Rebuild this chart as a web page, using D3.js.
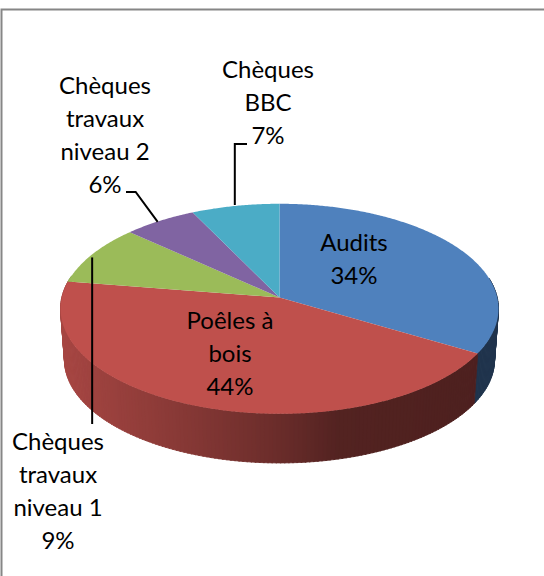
<!DOCTYPE html>
<html>
<head>
<meta charset="utf-8">
<script src="https://cdn.jsdelivr.net/npm/d3@7"></script>
<style>
  html, body { margin: 0; padding: 0; background: #fff; overflow: hidden; }
  svg { display: block; }
</style>
</head>
<body>
<div id="chart"></div>
<script>
// data (slices start at 12 o'clock, clockwise)
const categories = ["Audits", "Poêles à bois", "Chèques travaux niveau 1", "Chèques travaux niveau 2", "Chèques BBC"];
const shares = [33.5, 44, 9.3, 6, 7.2];
const colors = ["#4f81bd", "#bf504c", "#9bbb59", "#8064a2", "#4bacc6"];
const labelLines = [["Audits"], ["Poêles à", "bois"], ["Chèques", "travaux", "niveau 1"], ["Chèques", "travaux", "niveau 2"], ["Chèques", "BBC"]];
const labelPos = [[354, 251], [230, 329], [58, 450], [105, 94], [268, 78]];

const width = 544, height = 576;
const cx = 279.5, cy = 297.5; // where the slices meet
const persp = 0.1076, scaleX = 217.7, scaleY = 103.8; // tilted disc
const depth = 49, bottomShrink = 0.982;

const svg = d3.select("#chart").append("svg").attr("width", width).attr("height", height)
  .attr("font-family", "Lato, sans-serif").attr("font-size", 24);

// chart frame
svg.append("rect").attr("x", 1.5).attr("y", 9.5).attr("width", width + 10).attr("height", height + 10)
  .attr("fill", "#fff").attr("stroke", "#868686").attr("stroke-width", 2);

// angle on the disc -> pixel
function project(a, r = 1) {
  const X = r * Math.sin(a), Y = -r * Math.cos(a), w = 1 - persp * Y;
  return [cx + (scaleX * X) / w, cy + (scaleY * Y) / w];
}
function projectBottom(a) {
  const [x, y] = project(a);
  return [cx + (x - cx) * bottomShrink, cy + 11.5 + (y - cy - 11.5) * bottomShrink + depth + 2];
}

const arcs = d3.pie().sort(null).value((d) => d)(shares);

// side wall, darkening from the left towards the right
const sideShade = d3.scaleLinear().domain([61, 180, 280, 340, 500]).range([1, 0.82, 0.64, 0.5, 0.46]);
const step = Math.PI / 180;
const strips = [];
arcs.forEach((d, i) => {
  d3.range(d.startAngle, d.endAngle, step).forEach((a) => {
    strips.push({ a, b: Math.min(a + step * 1.3, d.endAngle), i });
  });
});
const stripFill = (s) => {
  const c = d3.rgb(colors[s.i]);
  const k = 0.87 * sideShade(project(s.a)[0]);
  return d3.rgb(c.r * k, c.g * k, c.b * k);
};
svg.append("g").selectAll("path").data(strips.filter((s) => Math.cos(s.a) < 0.2)).join("path")
  .attr("d", (s) => "M" + [project(s.a), project(s.b), projectBottom(s.b), projectBottom(s.a)].join("L") + "Z")
  .attr("fill", stripFill)
  .attr("stroke", stripFill)
  .attr("stroke-width", 0.8);

// top face
svg.append("g").selectAll("path").data(arcs).join("path")
  .attr("d", (d) => {
    const pts = d3.range(d.startAngle, d.endAngle, step / 2).concat(d.endAngle).map((a) => project(a));
    return "M" + [[cx, cy]].concat(pts).join("L") + "Z";
  })
  .attr("fill", (d, i) => colors[i]);

// leader lines, from the middle of each outer slice
const mid = (d) => (d.startAngle + d.endAngle) / 2;
const leaders = [
  [2, (p) => [[p[0], p[1] + 3], [p[0], 424]]],
  [3, (p) => [[p[0] - 2, p[1] + 1], [p[0] - 24, 192], [126, 192]]],
  [4, (p) => [[p[0] - 0.5, p[1] - 1], [p[0] - 0.5, 144], [247, 144]]],
];
svg.append("g").selectAll("path").data(leaders).join("path")
  .attr("d", ([i, f]) => d3.line()(f(project(mid(arcs[i])))))
  .attr("fill", "none").attr("stroke", "#000").attr("stroke-width", 2);

// labels
const pct = d3.format(".0f");
const labels = svg.append("g").attr("text-anchor", "middle").attr("fill", "#000").selectAll("text").data(arcs).join("text");
labels.each(function (d, i) {
  const lines = labelLines[i].concat(pct(shares[i]) + "%");
  d3.select(this).selectAll("tspan").data(lines).join("tspan")
    .attr("x", labelPos[i][0])
    .attr("y", (l, j) => labelPos[i][1] + j * 33)
    .text((l) => l);
});
</script>
</body>
</html>
